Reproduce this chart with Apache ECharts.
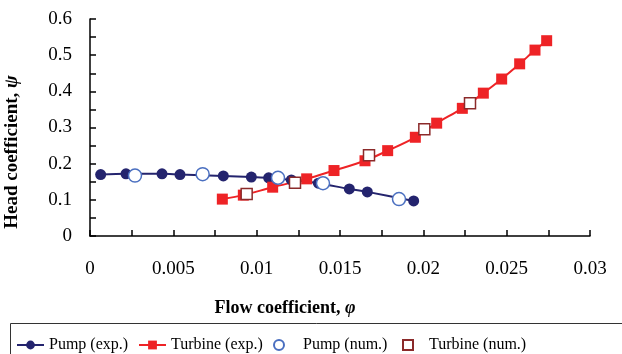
<!DOCTYPE html>
<html>
<head>
<meta charset="utf-8">
<script src="https://cdn.jsdelivr.net/npm/echarts@6/dist/echarts.min.js"></script>
<style>
html,body{margin:0;padding:0;background:#fff;}
#chart{width:622px;height:354px;}
</style>
</head>
<body>
<div id="chart"></div>
<script>
// ---- data ----
var xTicks = [0, 0.005, 0.01, 0.015, 0.02, 0.025, 0.03];
var yTicks = [0, 0.1, 0.2, 0.3, 0.4, 0.5, 0.6];

var pumpExpX = [0.00064, 0.00216, 0.00432, 0.0054, 0.0080, 0.00968, 0.01072, 0.01208, 0.0137, 0.01556, 0.01664, 0.01942];
var pumpExpY = [0.170, 0.172, 0.172, 0.170, 0.166, 0.163, 0.161, 0.155, 0.146, 0.130, 0.122, 0.097];

var turbExpX = [0.00794, 0.0092, 0.01096, 0.0130, 0.01464, 0.0165, 0.01786, 0.01952, 0.0208, 0.02234, 0.0236, 0.0247, 0.02578, 0.0267, 0.0274];
var turbExpY = [0.102, 0.113, 0.135, 0.158, 0.181, 0.208, 0.236, 0.273, 0.312, 0.353, 0.395, 0.434, 0.476, 0.514, 0.540];

var pumpNumX = [0.0027, 0.00676, 0.01128, 0.01398, 0.01854];
var pumpNumY = [0.167, 0.171, 0.161, 0.146, 0.102];

var turbNumX = [0.0094, 0.0123, 0.01674, 0.02006, 0.0228];
var turbNumY = [0.116, 0.147, 0.223, 0.295, 0.367];

var seriesNames = ['Pump (exp.)', 'Turbine (exp.)', 'Pump (num.)', 'Turbine (num.)'];

function pairs(xs, ys) { return xs.map(function (x, i) { return [x, ys[i]]; }); }

var FONT = "'Liberation Serif','Times New Roman',serif";
var NAVY = '#24246e';
var RED = '#ee2326';

var chart = echarts.init(document.getElementById('chart'));

function legendAt(name, left, width, height, textPad) {
  return {
    data: [name], left: left, top: 337, itemWidth: width, itemHeight: height,
    itemGap: 0, padding: 0, selectedMode: false,
    textStyle: { fontFamily: FONT, fontSize: 16, color: '#000', padding: [0, 0, 0, textPad] }
  };
}

var option = {
  animation: false,
  backgroundColor: '#fff',
  grid: { left: 90, right: 32, top: 19, bottom: 118 },
  xAxis: {
    type: 'value', min: xTicks[0], max: xTicks[xTicks.length - 1], interval: 0.005,
    axisLine: { lineStyle: { color: '#000', width: 1.5 } },
    axisTick: { inside: true, length: 6, lineStyle: { color: '#000', width: 1.5 } },
    minorTick: { show: true, splitNumber: 2, length: 6, lineStyle: { color: '#000', width: 1.5 } },
    splitLine: { show: false },
    axisLabel: {
      margin: 24, fontFamily: FONT, fontSize: 19, color: '#000',
      formatter: function (v) { return String(+v.toFixed(4)); }
    }
  },
  yAxis: {
    type: 'value', min: yTicks[0], max: yTicks[yTicks.length - 1], interval: 0.1,
    axisLine: { show: true, lineStyle: { color: '#000', width: 1.5 } },
    axisTick: { show: true, inside: true, length: 6, lineStyle: { color: '#000', width: 1.5 } },
    minorTick: { show: true, splitNumber: 2, length: 6, lineStyle: { color: '#000', width: 1.5 } },
    splitLine: { show: false },
    axisLabel: {
      margin: 18, fontFamily: FONT, fontSize: 19, color: '#000',
      formatter: function (v) { return String(+v.toFixed(2)); }
    }
  },
  legend: [
    legendAt(seriesNames[0], 16, 27, 11, 0),
    legendAt(seriesNames[1], 138, 27, 11, 0),
    legendAt(seriesNames[2], 273, 10, 10, 14),
    legendAt(seriesNames[3], 402, 10, 10, 11)
  ],
  graphic: [
    {
      type: 'text', x: 12, y: 152, rotation: Math.PI / 2,
      style: {
        text: 'Head coefficient, {i|ψ}', align: 'center', verticalAlign: 'middle',
        fontFamily: FONT, fontSize: 19, fontWeight: 'bold', fill: '#000',
        rich: { i: { fontFamily: FONT, fontSize: 19, fontWeight: 'bold', fontStyle: 'italic', fill: '#000' } }
      }
    },
    {
      type: 'text', x: 285, y: 308,
      style: {
        text: 'Flow coefficient, {i|φ}', align: 'center', verticalAlign: 'middle',
        fontFamily: FONT, fontSize: 18, fontWeight: 'bold', fill: '#000',
        rich: { i: { fontFamily: FONT, fontSize: 18, fontWeight: 'bold', fontStyle: 'italic', fill: '#000' } }
      }
    },
    {
      type: 'rect', shape: { x: 10.5, y: 323.5, width: 640, height: 60 },
      style: { fill: 'none', stroke: '#333', lineWidth: 1 }, z: -1
    }
  ],
  series: [
    {
      name: seriesNames[0], type: 'line', data: pairs(pumpExpX, pumpExpY), smooth: 0.3,
      symbol: 'circle', symbolSize: 11,
      lineStyle: { color: NAVY, width: 2 }, itemStyle: { color: NAVY }, z: 2
    },
    {
      name: seriesNames[1], type: 'line', data: pairs(turbExpX, turbExpY), smooth: 0.3,
      symbol: 'rect', symbolSize: 11,
      lineStyle: { color: RED, width: 2 }, itemStyle: { color: RED }, z: 2
    },
    {
      name: seriesNames[2], type: 'scatter', data: pairs(pumpNumX, pumpNumY),
      symbol: 'circle', symbolSize: 13,
      itemStyle: { color: '#fff', borderColor: '#4a6fc0', borderWidth: 1.5, opacity: 1 }, z: 3
    },
    {
      name: seriesNames[3], type: 'scatter', data: pairs(turbNumX, turbNumY),
      symbol: 'rect', symbolSize: 11,
      itemStyle: { color: '#fff', borderColor: '#8b2a2a', borderWidth: 1.5, opacity: 1 }, z: 3
    }
  ]
};
chart.setOption(option);
</script>
</body>
</html>
